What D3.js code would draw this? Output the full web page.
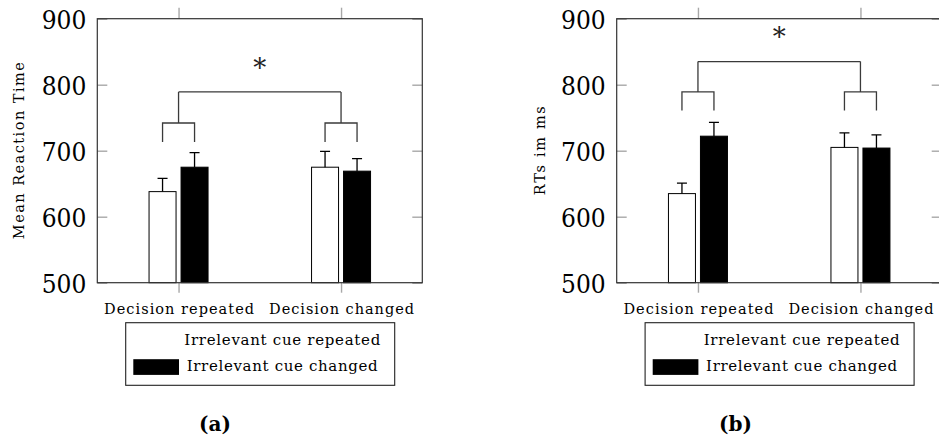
<!DOCTYPE html>
<html>
<head>
<meta charset="utf-8">
<script src="https://cdn.jsdelivr.net/npm/d3@7"></script>
<style>
  body { margin: 0; background: #fff; }
  svg { display: block; }
</style>
</head>
<body>
<svg id="chart" width="939" height="445"></svg>
<script>
// ---- data ----
const categories = ["Decision repeated", "Decision changed"];
const seriesNames = ["Irrelevant cue repeated", "Irrelevant cue changed"];
const yTicks = [500, 600, 700, 800, 900];

// panel (a): mean reaction time
const meanCueRepeatedA = [638, 675];
const meanCueChangedA = [675, 669];
const errCueRepeatedA = [20, 24];
const errCueChangedA = [22, 19];
// significance bracket levels (data units): legs, pair bar, main bar, star
const bracketA = [713, 742, 789, 831];

// panel (b): RTs in ms
const meanCueRepeatedB = [635, 705];
const meanCueChangedB = [722, 704];
const errCueRepeatedB = [16, 22];
const errCueChangedB = [21, 20];
const bracketB = [761, 789, 835, 878];

// ---- drawing ----
const SERIF = '"DejaVu Serif", serif';
const SERIF_NUM = '"DejaVu Serif Condensed", "DejaVu Serif", serif';
const svg = d3.select("#chart");

function drawPanel(cfg) {
  const left = cfg.left, top = 18.7, width = 325, height = 264;
  const bottom = top + height;
  const y = d3.scaleLinear().domain([500, 900]).range([bottom, top]);
  const x = d3.scalePoint().domain(categories).range([left, left + width]).padding(0.5);
  const g = svg.append("g");

  const styleTicks = sel => {
    sel.attr("font-family", null);
    sel.select(".domain").remove();
    sel.selectAll(".tick line").attr("stroke", "#a8a8a8").attr("stroke-width", 1.4);
  };

  // y axis, ticks pointing inward
  const yl = g.append("g").attr("transform", `translate(${left},0)`)
    .call(d3.axisLeft(y).tickValues(yTicks).tickSize(-10).tickPadding(11));
  styleTicks(yl);
  yl.selectAll(".tick text")
    .style("font-family", SERIF_NUM).attr("font-size", 26).attr("fill", "#000")
    .attr("dy", "0.36em");
  const yr = g.append("g").attr("transform", `translate(${left + width},0)`)
    .call(d3.axisRight(y).tickValues(yTicks).tickSize(-10).tickFormat(""));
  styleTicks(yr);

  // x axis, ticks pointing outward
  const xt = g.append("g").attr("transform", `translate(0,${top})`)
    .call(d3.axisTop(x).tickSize(11).tickFormat(""));
  styleTicks(xt);
  const xb = g.append("g").attr("transform", `translate(0,${bottom})`)
    .call(d3.axisBottom(x).tickSize(10).tickPadding(11.5));
  styleTicks(xb);
  xb.selectAll(".tick text")
    .style("font-family", SERIF).attr("font-size", 14.5).attr("fill", "#000")
    .attr("textLength", (d, i) => [150, 145][i]);

  // bars with upper error bars
  const series = [
    { mean: cfg.mean[0], err: cfg.err[0], fill: "#fff", off: -16 },
    { mean: cfg.mean[1], err: cfg.err[1], fill: "#000", off: 16 }
  ];
  const bw = 27;
  series.forEach(s => {
    categories.forEach((c, i) => {
      const cx = x(c) + s.off;
      g.append("rect")
        .attr("x", cx - bw / 2).attr("y", y(s.mean[i]))
        .attr("width", bw).attr("height", y(500) - y(s.mean[i]))
        .attr("fill", s.fill).attr("stroke", "#000").attr("stroke-width", 1);
      g.append("path")
        .attr("d", `M${cx},${y(s.mean[i])}V${y(s.mean[i] + s.err[i])}` +
                   `M${cx - 5},${y(s.mean[i] + s.err[i])}H${cx + 5}`)
        .attr("fill", "none").attr("stroke", "#000").attr("stroke-width", 1.3);
    });
  });

  // frame
  g.append("rect").attr("x", left).attr("y", top)
    .attr("width", width).attr("height", height)
    .attr("fill", "none").attr("stroke", "#333").attr("stroke-width", 1.2);

  // significance brackets
  const [legs, pair, main, star] = cfg.bracket;
  let d = "";
  categories.forEach(c => {
    const cx = x(c);
    d += `M${cx - 16},${y(legs)}V${y(pair)}H${cx + 16}V${y(legs)}`;
    d += `M${cx},${y(pair)}V${y(main)}`;
  });
  d += `M${x(categories[0])},${y(main)}H${x(categories[1])}`;
  g.append("path").attr("d", d).attr("fill", "none")
    .attr("stroke", "#3a3a3a").attr("stroke-width", 1.3);
  g.append("text")
    .attr("x", (x(categories[0]) + x(categories[1])) / 2)
    .attr("y", y(star))
    .attr("dy", "0.5em")
    .attr("text-anchor", "middle")
    .style("font-family", SERIF).attr("font-size", 26).attr("fill", "#222")
    .text("*");

  // y axis title
  g.append("text")
    .attr("transform", `translate(${cfg.titleX},${(top + bottom) / 2}) rotate(-90)`)
    .attr("text-anchor", "middle")
    .style("font-family", SERIF).attr("font-size", 14.5).attr("fill", "#000")
    .attr("textLength", cfg.titleLen)
    .text(cfg.title);

  // legend
  const lx = left + 28.4, ly = 322.7;
  g.append("rect").attr("x", lx).attr("y", ly).attr("width", 269).attr("height", 62.6)
    .attr("fill", "#fff").attr("stroke", "#222").attr("stroke-width", 1.1);
  const swatchFill = ["#fff", "#000"];
  seriesNames.forEach((name, i) => {
    g.append("rect")
      .attr("x", lx + 7.6).attr("y", ly + 11 + i * 25.5)
      .attr("width", 45.7).attr("height", 15.7)
      .attr("fill", swatchFill[i]);
    g.append("text")
      .attr("x", lx + [58.6, 61][i]).attr("y", ly + [22.3, 48][i])
      .style("font-family", SERIF).attr("font-size", 15).attr("fill", "#000")
      .attr("textLength", [196, 191][i])
      .text(name);
  });

  // subfigure caption
  g.append("text")
    .attr("x", cfg.capX).attr("y", 431)
    .attr("text-anchor", "middle")
    .style("font-family", SERIF).attr("font-size", 20).attr("font-weight", "bold")
    .attr("fill", "#000")
    .text(cfg.caption);
}

drawPanel({
  left: 97.3,
  mean: [meanCueRepeatedA, meanCueChangedA],
  err: [errCueRepeatedA, errCueChangedA],
  bracket: bracketA,
  title: "Mean Reaction Time", titleX: 24, titleLen: 177,
  caption: "(a)", capX: 215
});
drawPanel({
  left: 616.7,
  mean: [meanCueRepeatedB, meanCueChangedB],
  err: [errCueRepeatedB, errCueChangedB],
  bracket: bracketB,
  title: "RTs im ms", titleX: 545, titleLen: 89,
  caption: "(b)", capX: 735.5
});
</script>
</body>
</html>
